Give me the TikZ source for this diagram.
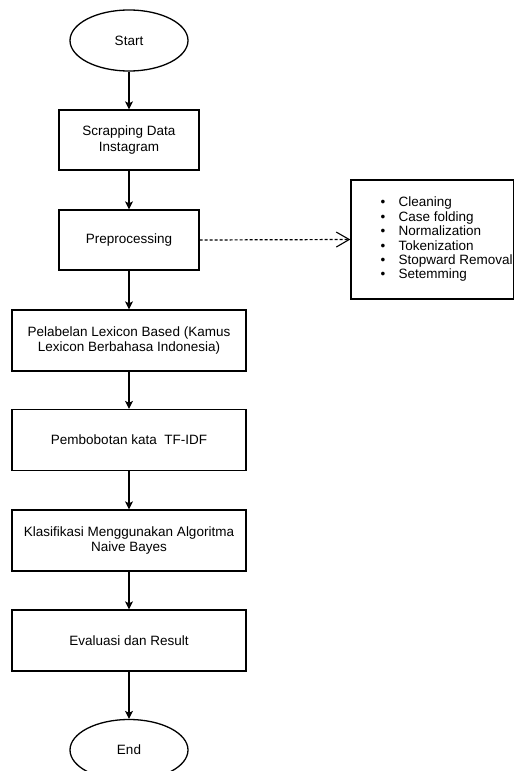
\documentclass[tikz,border=0pt]{standalone}
\usepackage{fontspec}
\setmainfont{Liberation Sans}
\usetikzlibrary{shapes.geometric,arrows.meta}
\begin{document}
\begin{tikzpicture}[x=1pt,y=-1pt,
  every node/.style={font=\fontsize{13.5}{15.5}\selectfont, text=black},
  terminal/.style={draw, ellipse, line width=1.3pt, minimum width=118pt, minimum height=61pt, inner sep=0pt},
  procbox/.style={draw, rectangle, line width=1.3pt, inner sep=0pt, align=center},
  smallbox/.style={procbox, minimum width=140pt, minimum height=60pt},
  widebox/.style={procbox, minimum width=234pt, minimum height=61pt},
  flow/.style={-{Stealth[length=8pt,width=8pt,inset=2pt]}, line width=1.1pt},
  dashflow/.style={-{Straight Barb[length=13pt,width=15pt,line width=1.1pt]}, line width=1.2pt, dash pattern=on 3pt off 2pt},
  listtext/.style={font=\fontsize{13.5}{14.4}\selectfont, align=left, inner sep=0pt, anchor=west}
]
\useasboundingbox (0,0) rectangle (515,771);
\clip (0,0) rectangle (515,771);

\node[terminal] (start) at (129,40.5) {Start};
\node[smallbox] (scrap) at (129,140) {Scrapping Data\\Instagram};
\node[smallbox] (prep) at (129,240) {Preprocessing};
\node[widebox] (label) at (129,340.5) {Pelabelan Lexicon Based (Kamus\\Lexicon Berbahasa Indonesia)};
\node[widebox] (tfidf) at (129,440) {Pembobotan kata\ \ TF-IDF};
\node[widebox] (nb) at (129,540.5) {Klasifikasi Menggunakan Algoritma\\Naive Bayes};
\node[widebox] (eval) at (129,640.5) {Evaluasi dan Result};
\node[terminal] (end) at (129,750) {End};

\node[procbox, minimum width=162.5pt, minimum height=119pt] (steps) at (432.25,239.5) {};
\node[listtext] (stepstext) at (380.5,239.5) {%
\makebox[18pt][l]{\textbullet}Cleaning\\
\makebox[18pt][l]{\textbullet}Case folding\\
\makebox[18pt][l]{\textbullet}Normalization\\
\makebox[18pt][l]{\textbullet}Tokenization\\
\makebox[18pt][l]{\textbullet}Stopward Removal\\
\makebox[18pt][l]{\textbullet}Setemming};

\draw[flow] (start) -- (scrap);
\draw[flow] (scrap) -- (prep);
\draw[flow] (prep) -- (label);
\draw[flow] (label) -- (tfidf);
\draw[flow] (tfidf) -- (nb);
\draw[flow] (nb) -- (eval);
\draw[flow] (eval) -- (end);
\draw[dashflow] (prep.east) -- (steps.west);
\end{tikzpicture}
\end{document}
